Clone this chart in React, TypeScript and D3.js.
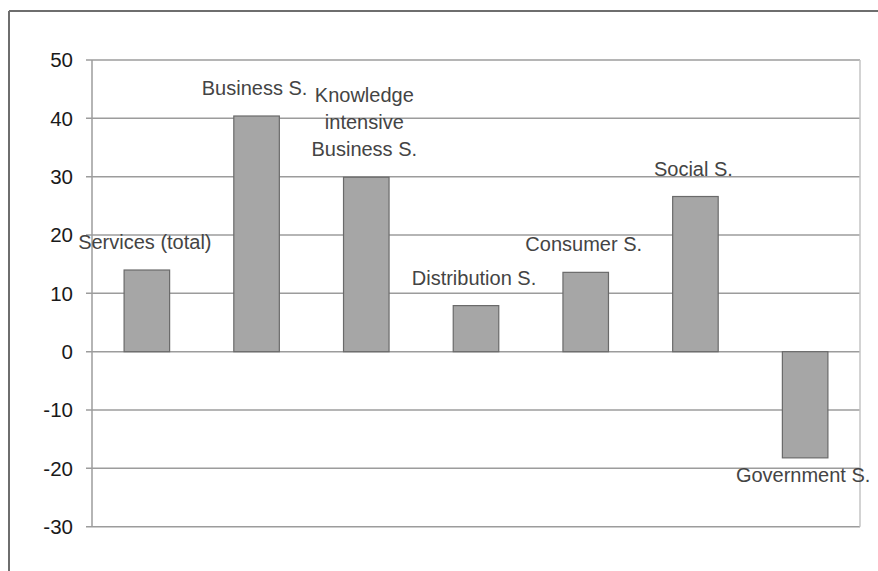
import React from "react";
import * as d3 from "d3";

// Growth by service sector (percent)
const categories = [
  "Services (total)",
  "Business S.",
  "Knowledge intensive Business S.",
  "Distribution S.",
  "Consumer S.",
  "Social S.",
  "Government S.",
];
const values = [14.0, 40.4, 29.9, 7.9, 13.6, 26.6, -18.2];
const labelLines = [
  ["Services (total)"],
  ["Business S."],
  ["Knowledge", "intensive", "Business S."],
  ["Distribution S."],
  ["Consumer S."],
  ["Social S."],
  ["Government S."],
];
const yTicks = [50, 40, 30, 20, 10, 0, -10, -20, -30];

const W = 878;
const H = 571;
const plot = { left: 92, right: 860, top: 60, bottom: 526.7 };
const FONT = "'Liberation Sans', Arial, Helvetica, sans-serif";

export default function App() {
  const x = d3
    .scaleBand<string>()
    .domain(categories)
    .range([plot.left, plot.right])
    .paddingInner(0.585)
    .paddingOuter(0.2925);
  const y = d3.scaleLinear().domain([-30, 50]).range([plot.bottom, plot.top]);
  const lineH = 27;

  return (
    <svg
      width={W}
      height={H}
      style={{ position: "absolute", left: 0, top: 0, background: "#fff" }}
      fontFamily={FONT}
    >
      {/* outer frame */}
      <line x1={9} y1={11} x2={W} y2={11} stroke="#6e6e6e" strokeWidth={2} />
      <line x1={9} y1={11} x2={9} y2={H} stroke="#6e6e6e" strokeWidth={2} />

      {/* gridlines */}
      {yTicks.map((t) => (
        <line
          key={"g" + t}
          x1={plot.left - 6}
          x2={plot.right}
          y1={y(t)}
          y2={y(t)}
          stroke="#9c9c9c"
          strokeWidth={1.5}
        />
      ))}
      {/* plot right border */}
      <line x1={plot.right} x2={plot.right} y1={plot.top} y2={plot.bottom} stroke="#c4c4c4" strokeWidth={1.5} />
      {/* y axis */}
      <line x1={plot.left} x2={plot.left} y1={plot.top} y2={plot.bottom} stroke="#9c9c9c" strokeWidth={1.5} />

      {/* y tick labels */}
      {yTicks.map((t) => (
        <text
          key={"t" + t}
          x={73}
          y={y(t)}
          dy="0.35em"
          textAnchor="end"
          fontSize={20.5}
          fill="#1a1a1a"
        >
          {t}
        </text>
      ))}

      {/* bars */}
      {values.map((v, i) => {
        const c = categories[i];
        const y0 = y(Math.max(0, v));
        const y1 = y(Math.min(0, v));
        return (
          <rect
            key={c}
            x={x(c)!}
            y={y0}
            width={x.bandwidth()}
            height={y1 - y0}
            fill="#a6a6a6"
            stroke="#6a6a6a"
            strokeWidth={1.2}
          />
        );
      })}

      {/* data labels */}
      {values.map((v, i) => {
        const c = categories[i];
        const cx = x(c)! + x.bandwidth() / 2 - 2;
        const lines = labelLines[i];
        const baseY =
          v >= 0 ? y(v) - 21 - (lines.length - 1) * lineH : y(v) + 24;
        return (
          <text
            key={"l" + c}
            x={cx}
            y={baseY}
            textAnchor="middle"
            fontSize={20}
            fill="#444"
          >
            {lines.map((ln, k) => (
              <tspan key={k} x={cx} y={baseY + k * lineH}>
                {ln}
              </tspan>
            ))}
          </text>
        );
      })}
    </svg>
  );
}
